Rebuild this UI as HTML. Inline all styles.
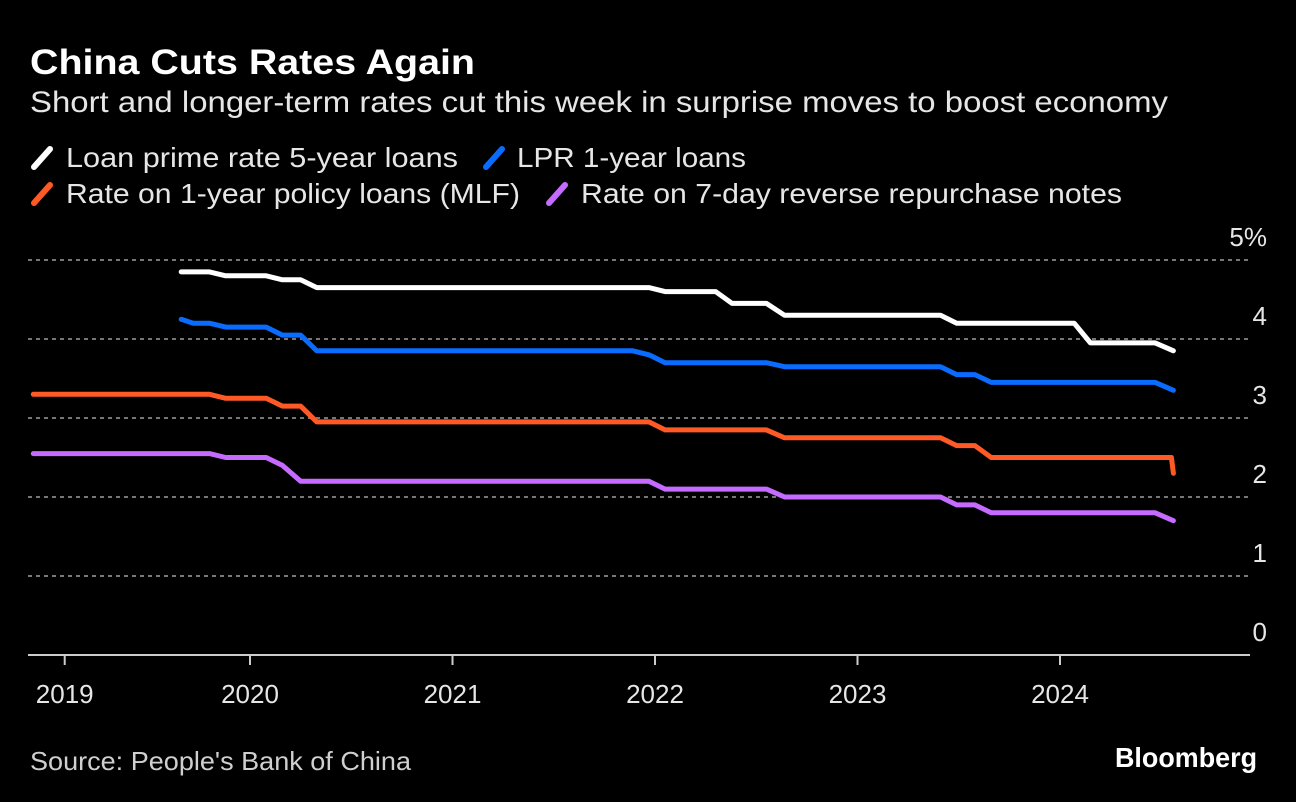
<!DOCTYPE html>
<html><head><meta charset="utf-8"><style>
html,body{margin:0;padding:0;background:#000;}
svg{display:block;font-family:"Liberation Sans",sans-serif;}
</style></head><body>
<svg id="chart" width="1296" height="802" viewBox="0 0 1296 802">
<text x="30" y="74" fill="#fff" font-size="35" font-weight="bold" textLength="445" lengthAdjust="spacingAndGlyphs">China Cuts Rates Again</text>
<text x="30" y="112" fill="#e6e6e6" font-size="30" textLength="1138" lengthAdjust="spacingAndGlyphs">Short and longer-term rates cut this week in surprise moves to boost economy</text>
<g>
<g><line x1="34" y1="167" x2="50" y2="149" stroke="#fff" stroke-width="6" stroke-linecap="round"/><text x="66" y="167" fill="#e6e6e6" font-size="28" textLength="392" lengthAdjust="spacingAndGlyphs">Loan prime rate 5-year loans</text></g>
<g><line x1="486" y1="167" x2="502" y2="149" stroke="#0a6cff" stroke-width="6" stroke-linecap="round"/><text x="517" y="167" fill="#e6e6e6" font-size="28" textLength="229" lengthAdjust="spacingAndGlyphs">LPR 1-year loans</text></g>
<g><line x1="34" y1="203" x2="50" y2="185" stroke="#ff5a26" stroke-width="6" stroke-linecap="round"/><text x="66" y="203" fill="#e6e6e6" font-size="28" textLength="454" lengthAdjust="spacingAndGlyphs">Rate on 1-year policy loans (MLF)</text></g>
<g><line x1="549" y1="203" x2="565" y2="185" stroke="#c56bff" stroke-width="6" stroke-linecap="round"/><text x="581" y="203" fill="#e6e6e6" font-size="28" textLength="541" lengthAdjust="spacingAndGlyphs">Rate on 7-day reverse repurchase notes</text></g>
</g>
<g id="grid"></g><g id="axes"></g><g id="series"></g>
<text x="30" y="770" fill="#cfcfcf" font-size="26" textLength="381" lengthAdjust="spacingAndGlyphs">Source: People's Bank of China</text>
<text x="1257" y="767" fill="#fff" font-size="28" font-weight="bold" text-anchor="end" textLength="142" lengthAdjust="spacingAndGlyphs">Bloomberg</text>
</svg>
<script>
const yTicks=[0,1,2,3,4,5];
const yTickLabels=["0","1","2","3","4","5%"];
const xTicks=[2019.085,2020,2021,2022,2023,2024];
const xTickLabels=["2019","2020","2021","2022","2023","2024"];
const lpr5T=[2019.66,2019.80,2019.88,2020.08,2020.16,2020.25,2020.33,2021.97,2022.05,2022.30,2022.38,2022.55,2022.64,2023.41,2023.49,2024.07,2024.15,2024.47,2024.56];
const lpr5V=[4.85,4.85,4.80,4.80,4.75,4.75,4.65,4.65,4.60,4.60,4.45,4.45,4.30,4.30,4.20,4.20,3.95,3.95,3.85];
const lpr1T=[2019.66,2019.72,2019.80,2019.88,2020.08,2020.16,2020.25,2020.33,2021.89,2021.97,2022.05,2022.55,2022.64,2023.41,2023.49,2023.58,2023.66,2024.47,2024.56];
const lpr1V=[4.25,4.20,4.20,4.15,4.15,4.05,4.05,3.85,3.85,3.80,3.70,3.70,3.65,3.65,3.55,3.55,3.45,3.45,3.35];
const mlfT=[2018.93,2019.80,2019.88,2020.08,2020.16,2020.25,2020.33,2021.97,2022.05,2022.55,2022.64,2023.41,2023.49,2023.58,2023.66,2024.55,2024.56];
const mlfV=[3.30,3.30,3.25,3.25,3.15,3.15,2.95,2.95,2.85,2.85,2.75,2.75,2.65,2.65,2.50,2.50,2.30];
const rrT=[2018.93,2019.80,2019.88,2020.08,2020.16,2020.25,2021.97,2022.05,2022.55,2022.64,2023.41,2023.49,2023.58,2023.66,2024.47,2024.56];
const rrV=[2.55,2.55,2.50,2.50,2.40,2.20,2.20,2.10,2.10,2.00,2.00,1.90,1.90,1.80,1.80,1.70];

const NS="http://www.w3.org/2000/svg";
function x(t){return 250+(t-2020)*202.5;}
function y(v){return 655-v*79;}
function mk(tag,attrs,parent){const e=document.createElementNS(NS,tag);for(const k in attrs)e.setAttribute(k,attrs[k]);parent.appendChild(e);return e;}
const grid=document.getElementById('grid'),axes=document.getElementById('axes'),ser=document.getElementById('series');
yTicks.forEach((v,i)=>{
  if(v>0){const g=mk('line',{x1:28,x2:1250,y1:y(v),y2:y(v),stroke:'#777','stroke-width':2,'stroke-dasharray':'4 4'},grid);
  
  }
  const t=mk('text',{x:1267,y:y(v)-14,fill:'#e6e6e6','font-size':26,'text-anchor':'end'},axes);
  t.textContent=yTickLabels[i];
  
  
});
const base=mk('line',{x1:28,x2:1250,y1:655,y2:655,stroke:'#ccc','stroke-width':2},axes);


xTicks.forEach((t,i)=>{
  const l=mk('line',{x1:x(t),x2:x(t),y1:655,y2:665,stroke:'#ccc','stroke-width':2},axes);
  
  
  const tx=mk('text',{x:x(t),y:703,fill:'#e6e6e6','font-size':26,'text-anchor':'middle'},axes);
  tx.textContent=xTickLabels[i];
  
  
});
const all=[[rrT,rrV,'#c56bff'],[mlfT,mlfV,'#ff5a26'],[lpr1T,lpr1V,'#0a6cff'],[lpr5T,lpr5V,'#ffffff']];
const nm=['7day','mlf','lpr-1y','lpr-5y'];
all.forEach((s,k)=>{
  const d=s[0].map((t,i)=>(i?'L':'M')+x(t).toFixed(1)+','+y(s[1][i]).toFixed(1)).join('');
  const p=mk('path',{d:d,fill:'none',stroke:s[2],'stroke-width':5,'stroke-linejoin':'round','stroke-linecap':'round'},ser);
  
  
});
</script>
</body></html>
